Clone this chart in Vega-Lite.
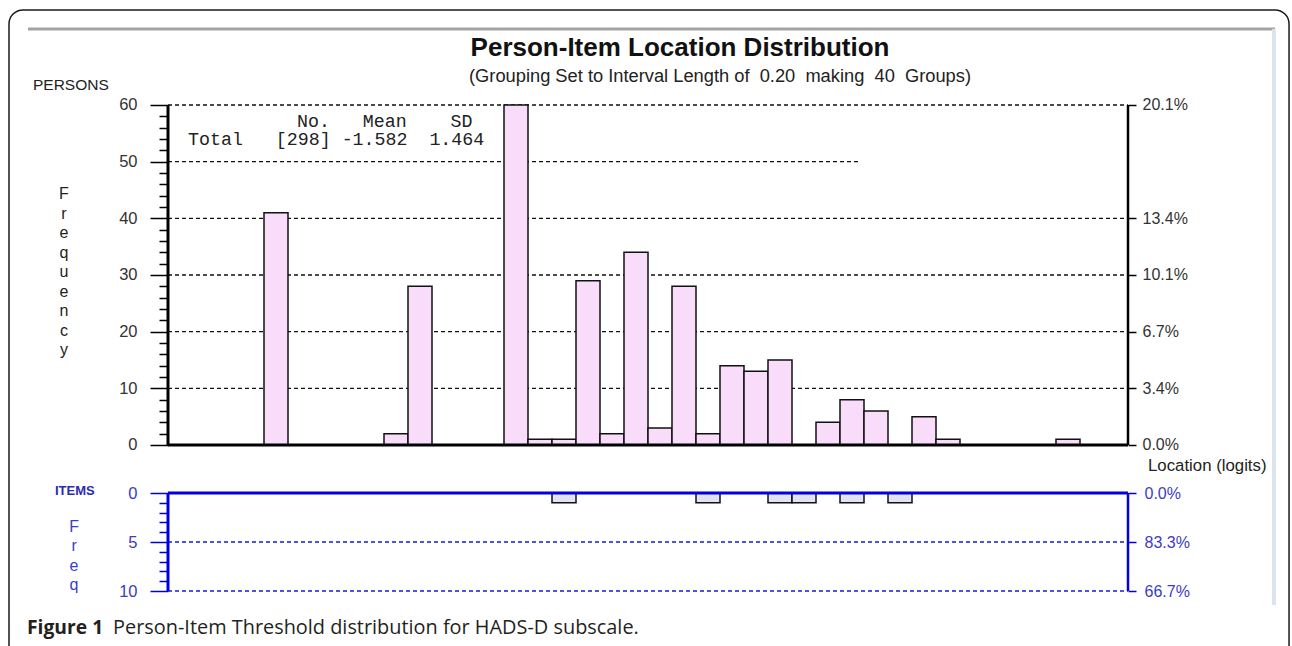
{
  "$schema": "https://vega.github.io/schema/vega-lite/v6.json",
  "width": 1292,
  "height": 646,
  "padding": 0,
  "autosize": {"type": "none"},
  "background": "white",
  "config": {"view": {"stroke": null}, "axis": {"labelFont": "Liberation Sans", "grid": false, "domain": false, "title": null}},
  "datasets": {
    "persons": [
      {"lo": -4.2, "hi": -4.0, "n": 41}, {"lo": -3.2, "hi": -3.0, "n": 2}, {"lo": -3.0, "hi": -2.8, "n": 28},
      {"lo": -2.2, "hi": -2.0, "n": 60}, {"lo": -2.0, "hi": -1.8, "n": 1}, {"lo": -1.8, "hi": -1.6, "n": 1},
      {"lo": -1.6, "hi": -1.4, "n": 29}, {"lo": -1.4, "hi": -1.2, "n": 2}, {"lo": -1.2, "hi": -1.0, "n": 34},
      {"lo": -1.0, "hi": -0.8, "n": 3}, {"lo": -0.8, "hi": -0.6, "n": 28}, {"lo": -0.6, "hi": -0.4, "n": 2},
      {"lo": -0.4, "hi": -0.2, "n": 14}, {"lo": -0.2, "hi": 0.0, "n": 13}, {"lo": 0.0, "hi": 0.2, "n": 15},
      {"lo": 0.4, "hi": 0.6, "n": 4}, {"lo": 0.6, "hi": 0.8, "n": 8}, {"lo": 0.8, "hi": 1.0, "n": 6},
      {"lo": 1.2, "hi": 1.4, "n": 5}, {"lo": 1.4, "hi": 1.6, "n": 1}, {"lo": 2.4, "hi": 2.6, "n": 1}
    ],
    "items": [
      {"lo": -1.8, "hi": -1.6, "n": 1}, {"lo": -0.6, "hi": -0.4, "n": 1}, {"lo": 0.0, "hi": 0.2, "n": 1},
      {"lo": 0.2, "hi": 0.4, "n": 1}, {"lo": 0.6, "hi": 0.8, "n": 1}, {"lo": 1.0, "hi": 1.2, "n": 1}
    ],
    "pgrid": [{"g": 10}, {"g": 20}, {"g": 30}, {"g": 40}, {"g": 60}],
    "igrid": [{"g": 5}, {"g": 10}]
  },
  "data": {"values": [{}]},
  "resolve": {"scale": {"y": "independent"}, "axis": {"y": "independent"}},
  "layer": [
    {
      "mark": {"type": "rect", "fill": "white", "fillOpacity": 0, "stroke": "#1a1a1a", "strokeWidth": 1.5, "cornerRadius": 14},
      "encoding": {
        "x": {"datum": -6.325, "type": "quantitative", "scale": {"domain": [-6.4, 4.366667], "nice": false, "zero": false}, "axis": null},
        "x2": {"datum": 4.342},
        "y": {"datum": 76.77, "type": "quantitative", "scale": {"domain": [-35.471, 78.529], "nice": false, "zero": false}, "axis": null},
        "y2": {"datum": -40}
      }
    },
    {
      "mark": {"type": "rule", "color": "#a3a3a3", "strokeWidth": 3},
      "encoding": {
        "x": {"datum": -6.167, "type": "quantitative", "scale": {"domain": [-6.4, 4.366667], "nice": false, "zero": false}, "axis": null},
        "x2": {"datum": 4.225},
        "y": {"datum": 73.41, "type": "quantitative", "scale": {"domain": [-35.471, 78.529], "nice": false, "zero": false}, "axis": null}
      }
    },
    {
      "mark": {"type": "rule", "color": "#dbe4ee", "strokeWidth": 4},
      "encoding": {
        "x": {"datum": 4.2167, "type": "quantitative", "scale": {"domain": [-6.4, 4.366667], "nice": false, "zero": false}, "axis": null},
        "y": {"datum": 73.41, "type": "quantitative", "scale": {"domain": [-35.471, 78.529], "nice": false, "zero": false}, "axis": null},
        "y2": {"datum": -28.23}
      }
    },
    {
      "data": {"name": "pgrid"},
      "mark": {"type": "rule", "color": "#111111", "strokeWidth": 1.3, "strokeDash": [4, 3]},
      "encoding": {
        "x": {"datum": -5, "type": "quantitative", "scale": {"domain": [-6.4, 4.366667], "nice": false, "zero": false}, "axis": null},
        "x2": {"datum": 3},
        "y": {"field": "g", "type": "quantitative", "scale": {"domain": [-35.471, 78.529], "nice": false, "zero": false},
          "axis": {"orient": "right", "offset": -164, "values": [0, 10, 20, 30, 40, 60],
            "labelExpr": "datum.value==0?'0.0%':datum.value==10?'3.4%':datum.value==20?'6.7%':datum.value==30?'10.1%':datum.value==40?'13.4%':'20.1%'",
            "tickSize": 8, "tickWidth": 1.5, "tickColor": "#000000", "labelPadding": 6, "labelFontSize": 16, "labelColor": "#333333", "title": null}}
      }
    },
    {
      "mark": {"type": "rule", "color": "#111111", "strokeWidth": 1.3, "strokeDash": [4, 3]},
      "encoding": {
        "x": {"datum": -5, "type": "quantitative", "scale": {"domain": [-6.4, 4.366667], "nice": false, "zero": false}, "axis": null},
        "x2": {"datum": 0.77},
        "y": {"datum": 50, "type": "quantitative", "scale": {"domain": [-35.471, 78.529], "nice": false, "zero": false}, "axis": null}
      }
    },
    {
      "data": {"name": "igrid"},
      "mark": {"type": "rule", "color": "#1a1ad0", "strokeWidth": 1.3, "strokeDash": [4, 3]},
      "encoding": {
        "x": {"datum": -5, "type": "quantitative", "scale": {"domain": [-6.4, 4.366667], "nice": false, "zero": false}, "axis": null},
        "x2": {"datum": 3},
        "y": {"field": "g", "type": "quantitative", "scale": {"domain": [-50.306, 15.612], "nice": false, "zero": false, "reverse": true},
          "axis": {"orient": "right", "offset": -164, "values": [0, 5, 10],
            "labelExpr": "datum.value==0?'0.0%':datum.value==5?'83.3%':'66.7%'",
            "tickSize": 8, "tickWidth": 1.5, "tickColor": "#0000dd", "labelPadding": 8, "labelFontSize": 16, "labelColor": "#3c3cc8", "title": null}}
      }
    },
    {
      "data": {"name": "persons"},
      "mark": {"type": "bar", "fill": "#f9dcf9", "stroke": "#111111", "strokeWidth": 1.5},
      "encoding": {
        "x": {"field": "lo", "type": "quantitative", "scale": {"domain": [-6.4, 4.366667], "nice": false, "zero": false},
          "axis": {"orient": "bottom", "offset": -201, "values": [-5, -4, -3, -2, -1, 0, 1, 2, 3], "labelExpr": "'' + datum.value",
            "tickSize": 8, "tickWidth": 1.5, "tickColor": "#000000", "labelPadding": 3, "labelFontSize": 16, "labelColor": "#333333",
            "labelFlush": false, "labelOverlap": false, "labelBound": false, "title": null}},
        "x2": {"field": "hi"},
        "y": {"field": "n", "type": "quantitative", "scale": {"domain": [-35.471, 78.529], "nice": false, "zero": false},
          "axis": {"orient": "left", "offset": -168, "values": [0, 10, 20, 30, 40, 50, 60],
            "tickSize": 18, "tickWidth": 1.5, "tickColor": "#000000", "labelPadding": 13, "labelFontSize": 16.5, "labelColor": "#333333", "title": null}},
        "y2": {"datum": 0}
      }
    },
    {
      "data": {"name": "items"},
      "mark": {"type": "bar", "fill": "#e2e2f2", "stroke": "#111111", "strokeWidth": 1.5},
      "encoding": {
        "x": {"field": "lo", "type": "quantitative", "scale": {"domain": [-6.4, 4.366667], "nice": false, "zero": false}, "axis": null},
        "x2": {"field": "hi"},
        "y": {"field": "n", "type": "quantitative", "scale": {"domain": [-50.306, 15.612], "nice": false, "zero": false, "reverse": true},
          "axis": {"orient": "left", "offset": -168, "values": [0, 5, 10],
            "tickSize": 18, "tickWidth": 1.5, "tickColor": "#0000dd", "labelPadding": 13, "labelFontSize": 16.5, "labelColor": "#3c3cc8", "title": null}},
        "y2": {"datum": 0}
      }
    },
    {
      "mark": {"type": "rule", "color": "#000000", "strokeWidth": 3},
      "encoding": {
        "x": {"datum": -5, "type": "quantitative", "scale": {"domain": [-6.4, 4.366667], "nice": false, "zero": false}, "axis": null},
        "y": {"datum": 0, "type": "quantitative", "scale": {"domain": [-35.471, 78.529], "nice": false, "zero": false},
          "axis": {"orient": "left", "offset": -168, "values": [2, 4, 6, 8, 12, 14, 16, 18, 22, 24, 26, 28, 32, 34, 36, 38, 42, 44, 46, 48, 52, 54, 56, 58],
            "labels": false, "tickSize": 9, "tickWidth": 1.5, "tickColor": "#000000", "title": null}},
        "y2": {"datum": 60}
      }
    },
    {
      "mark": {"type": "rule", "color": "#000000", "strokeWidth": 2.5},
      "encoding": {
        "x": {"datum": 3, "type": "quantitative", "scale": {"domain": [-6.4, 4.366667], "nice": false, "zero": false}, "axis": null},
        "y": {"datum": 0, "type": "quantitative", "scale": {"domain": [-35.471, 78.529], "nice": false, "zero": false}, "axis": null},
        "y2": {"datum": 60}
      }
    },
    {
      "mark": {"type": "rule", "color": "#000000", "strokeWidth": 3},
      "encoding": {
        "x": {"datum": -5, "type": "quantitative", "scale": {"domain": [-6.4, 4.366667], "nice": false, "zero": false}, "axis": null},
        "x2": {"datum": 3},
        "y": {"datum": 0, "type": "quantitative", "scale": {"domain": [-35.471, 78.529], "nice": false, "zero": false}, "axis": null}
      }
    },
    {
      "mark": {"type": "rule", "color": "#0000dd", "strokeWidth": 3},
      "encoding": {
        "x": {"datum": -5, "type": "quantitative", "scale": {"domain": [-6.4, 4.366667], "nice": false, "zero": false}, "axis": null},
        "y": {"datum": 0, "type": "quantitative", "scale": {"domain": [-50.306, 15.612], "nice": false, "zero": false, "reverse": true},
          "axis": {"orient": "left", "offset": -168, "values": [1, 2, 3, 4, 6, 7, 8, 9],
            "labels": false, "tickSize": 9, "tickWidth": 1.5, "tickColor": "#0000dd", "title": null}},
        "y2": {"datum": 10}
      }
    },
    {
      "mark": {"type": "rule", "color": "#0000dd", "strokeWidth": 2.5},
      "encoding": {
        "x": {"datum": 3, "type": "quantitative", "scale": {"domain": [-6.4, 4.366667], "nice": false, "zero": false}, "axis": null},
        "y": {"datum": 0, "type": "quantitative", "scale": {"domain": [-50.306, 15.612], "nice": false, "zero": false, "reverse": true}, "axis": null},
        "y2": {"datum": 10}
      }
    },
    {
      "mark": {"type": "rule", "color": "#0000dd", "strokeWidth": 3},
      "encoding": {
        "x": {"datum": -5, "type": "quantitative", "scale": {"domain": [-6.4, 4.366667], "nice": false, "zero": false}, "axis": null},
        "x2": {"datum": 3},
        "y": {"datum": 0, "type": "quantitative", "scale": {"domain": [-50.306, 15.612], "nice": false, "zero": false, "reverse": true}, "axis": null}
      }
    },
    {
      "mark": {"type": "text", "text": "Person-Item Location Distribution", "font": "Liberation Sans", "fontSize": 26, "fontWeight": "bold", "color": "#111111", "align": "center", "baseline": "middle"},
      "encoding": {
        "x": {"datum": -0.733, "type": "quantitative", "scale": {"domain": [-6.4, 4.366667], "nice": false, "zero": false}, "axis": null},
        "y": {"datum": 70.06, "type": "quantitative", "scale": {"domain": [-35.471, 78.529], "nice": false, "zero": false}, "axis": null}
      }
    },
    {
      "mark": {"type": "text", "text": "(Grouping Set to Interval Length of \u00a00.20 \u00a0making \u00a040 \u00a0Groups)", "font": "Liberation Sans", "fontSize": 18.3, "color": "#222222", "align": "center", "baseline": "middle"},
      "encoding": {
        "x": {"datum": -0.4, "type": "quantitative", "scale": {"domain": [-6.4, 4.366667], "nice": false, "zero": false}, "axis": null},
        "y": {"datum": 64.94, "type": "quantitative", "scale": {"domain": [-35.471, 78.529], "nice": false, "zero": false}, "axis": null}
      }
    },
    {
      "mark": {"type": "text", "text": "PERSONS", "font": "Liberation Sans", "fontSize": 15.5, "color": "#222222", "align": "left", "baseline": "middle"},
      "encoding": {
        "x": {"datum": -6.125, "type": "quantitative", "scale": {"domain": [-6.4, 4.366667], "nice": false, "zero": false}, "axis": null},
        "y": {"datum": 63.53, "type": "quantitative", "scale": {"domain": [-35.471, 78.529], "nice": false, "zero": false}, "axis": null}
      }
    },
    {
      "mark": {"type": "text", "text": ["F", "r", "e", "q", "u", "e", "n", "c", "y"], "lineHeight": 19.5, "font": "Liberation Sans", "fontSize": 16, "color": "#222222", "align": "center", "baseline": "middle"},
      "encoding": {
        "x": {"datum": -5.867, "type": "quantitative", "scale": {"domain": [-6.4, 4.366667], "nice": false, "zero": false}, "axis": null},
        "y": {"datum": 44.29, "type": "quantitative", "scale": {"domain": [-35.471, 78.529], "nice": false, "zero": false}, "axis": null}
      }
    },
    {
      "mark": {"type": "text", "text": "Location (logits)", "font": "Liberation Sans", "fontSize": 16.8, "color": "#222222", "align": "left", "baseline": "middle"},
      "encoding": {
        "x": {"datum": 3.167, "type": "quantitative", "scale": {"domain": [-6.4, 4.366667], "nice": false, "zero": false}, "axis": null},
        "y": {"datum": -3.71, "type": "quantitative", "scale": {"domain": [-35.471, 78.529], "nice": false, "zero": false}, "axis": null}
      }
    },
    {
      "mark": {"type": "text", "text": "No.\u00a0\u00a0\u00a0Mean\u00a0\u00a0\u00a0\u00a0SD", "font": "Liberation Mono", "fontSize": 18.3, "color": "#222222", "align": "left", "baseline": "middle"},
      "encoding": {
        "x": {"datum": -3.925, "type": "quantitative", "scale": {"domain": [-6.4, 4.366667], "nice": false, "zero": false}, "axis": null},
        "y": {"datum": 57.05, "type": "quantitative", "scale": {"domain": [-35.471, 78.529], "nice": false, "zero": false}, "axis": null}
      }
    },
    {
      "mark": {"type": "text", "text": "Total\u00a0\u00a0\u00a0[298]\u00a0-1.582\u00a0\u00a01.464", "font": "Liberation Mono", "fontSize": 18.3, "color": "#222222", "align": "left", "baseline": "middle"},
      "encoding": {
        "x": {"datum": -4.833, "type": "quantitative", "scale": {"domain": [-6.4, 4.366667], "nice": false, "zero": false}, "axis": null},
        "y": {"datum": 53.82, "type": "quantitative", "scale": {"domain": [-35.471, 78.529], "nice": false, "zero": false}, "axis": null}
      }
    },
    {
      "mark": {"type": "text", "text": "ITEMS", "font": "Liberation Sans", "fontSize": 13, "fontWeight": "bold", "color": "#2b2bb0", "align": "left", "baseline": "middle"},
      "encoding": {
        "x": {"datum": -5.942, "type": "quantitative", "scale": {"domain": [-6.4, 4.366667], "nice": false, "zero": false}, "axis": null},
        "y": {"datum": -8.12, "type": "quantitative", "scale": {"domain": [-35.471, 78.529], "nice": false, "zero": false}, "axis": null}
      }
    },
    {
      "mark": {"type": "text", "text": ["F", "r", "e", "q"], "lineHeight": 19.5, "font": "Liberation Sans", "fontSize": 16, "color": "#3c3cc8", "align": "center", "baseline": "middle"},
      "encoding": {
        "x": {"datum": -5.783, "type": "quantitative", "scale": {"domain": [-6.4, 4.366667], "nice": false, "zero": false}, "axis": null},
        "y": {"datum": -14.47, "type": "quantitative", "scale": {"domain": [-35.471, 78.529], "nice": false, "zero": false}, "axis": null}
      }
    },
    {
      "mark": {"type": "text", "text": "Figure 1", "font": "Open Sans", "fontSize": 19.3, "fontWeight": "bold", "color": "#231f20", "align": "left", "baseline": "middle"},
      "encoding": {
        "x": {"datum": -6.175, "type": "quantitative", "scale": {"domain": [-6.4, 4.366667], "nice": false, "zero": false}, "axis": null},
        "y": {"datum": -32.3, "type": "quantitative", "scale": {"domain": [-35.471, 78.529], "nice": false, "zero": false}, "axis": null}
      }
    },
    {
      "mark": {"type": "text", "text": "Person-Item Threshold distribution for HADS-D subscale.", "font": "Open Sans", "fontSize": 19.9, "color": "#231f20", "align": "left", "baseline": "middle"},
      "encoding": {
        "x": {"datum": -5.458, "type": "quantitative", "scale": {"domain": [-6.4, 4.366667], "nice": false, "zero": false}, "axis": null},
        "y": {"datum": -32.3, "type": "quantitative", "scale": {"domain": [-35.471, 78.529], "nice": false, "zero": false}, "axis": null}
      }
    }
  ]
}
